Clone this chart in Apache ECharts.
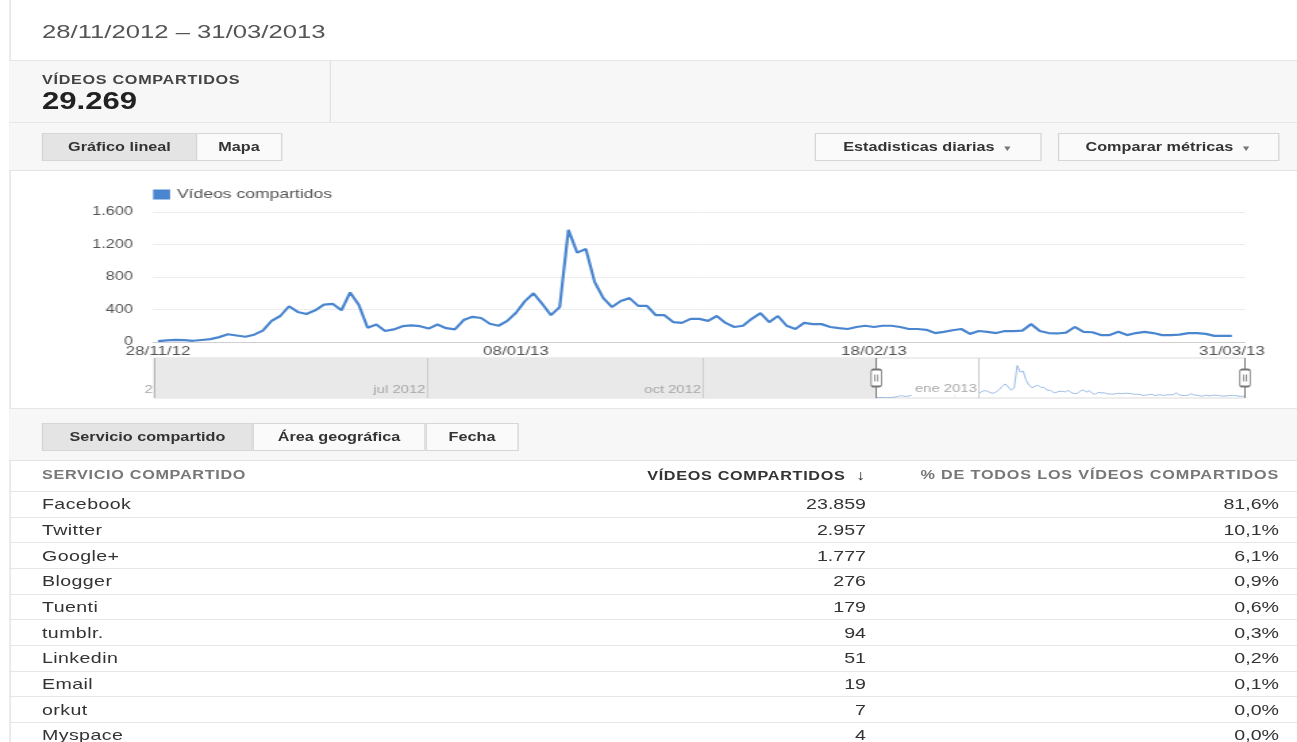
<!DOCTYPE html>
<html>
<head>
<meta charset="utf-8">
<script src="https://cdn.jsdelivr.net/npm/echarts@6/dist/echarts.min.js"></script>
<style>
  html, body { margin:0; padding:0; background:#fff; overflow:hidden; }
  #root { position:absolute; left:0; top:0; width:960px; height:742px; transform-origin:0 0; font-family:'Liberation Sans', Arial, Helvetica, sans-serif; }
</style>
</head>
<body>
<div id="root"></div>
<script>
// ---------------- DATA ----------------
const rangeTitle = '28/11/2012 \u2013 31/03/2013';
const metricName = 'VÍDEOS COMPARTIDOS';
const metricTotal = 29269;
const seriesName = 'Vídeos compartidos';
const startDate = '2012-11-28';
// daily shares, 28/11/2012 .. 31/03/2013 (124 days)
const sharesPerDay = [
  10, 20, 25, 22, 15, 25, 35, 60, 95, 80,
  65, 90, 140, 260, 320, 440, 370, 345, 390, 460,
  470, 390, 610, 455, 175, 215, 135, 155, 195, 205,
  195, 165, 215, 170, 155, 270, 310, 295, 225, 200,
  260, 360, 500, 600, 470, 330, 430, 1380, 1100, 1145,
  740, 540, 430, 505, 540, 445, 445, 330, 330, 245,
  235, 285, 285, 260, 320, 235, 185, 200, 285, 355,
  245, 320, 200, 160, 235, 220, 220, 185, 170, 160,
  185, 200, 185, 200, 200, 185, 160, 160, 150, 110,
  125, 145, 160, 100, 135, 125, 110, 135, 135, 140,
  220, 135, 110, 105, 115, 185, 125, 120, 85, 85,
  125, 85, 110, 125, 110, 85, 85, 90, 110, 110,
  100, 75, 75, 75
];
const xTickIndex = [0, 41, 82, 123];
const yTicks = [0, 400, 800, 1200, 1600];
// navigator
const navStart = '2012-04-01';
const monthStarts = ['2012-07-01', '2012-10-01', '2013-01-01'];
const monthLabels = ['jul 2012', 'oct 2012', 'ene 2013'];
// table
const services = ['Facebook', 'Twitter', 'Google+', 'Blogger', 'Tuenti', 'tumblr.', 'Linkedin', 'Email', 'orkut', 'Myspace'];
const serviceShares = [23859, 2957, 1777, 276, 179, 94, 51, 19, 7, 4];
const servicePct = [81.6, 10.1, 6.1, 0.9, 0.6, 0.3, 0.2, 0.1, 0.0, 0.0];

// ---------------- HELPERS ----------------
const FONT = "'Liberation Sans', Arial, Helvetica, sans-serif";
const S = 1297 / 960;
const root = document.getElementById('root');
root.style.transform = 'scaleX(' + S + ')';
const DAY = 86400000;
function utc(s) { const p = s.split('-').map(Number); return Date.UTC(p[0], p[1] - 1, p[2]); }
function dayOffset(s) { return Math.round((utc(s) - utc(startDate)) / DAY); }
function pad(n) { return (n < 10 ? '0' : '') + n; }
const dates = sharesPerDay.map(function (_, i) {
  const d = new Date(utc(startDate) + i * DAY);
  return pad(d.getUTCDate()) + '/' + pad(d.getUTCMonth() + 1) + '/' + String(d.getUTCFullYear()).slice(2);
});
function thousands(v) { return String(v).replace(/\B(?=(\d{3})+(?!\d))/g, '.'); }
function X(x) { return (x / S).toFixed(2) + 'px'; }
function add(html, css) {
  const d = document.createElement('div');
  d.style.cssText = 'position:absolute;white-space:nowrap;' + css;
  d.innerHTML = html;
  root.appendChild(d);
  return d;
}
function rect(x1, y1, x2, y2, css) {
  return add('', 'left:' + X(x1) + ';top:' + y1 + 'px;width:' + X(x2 - x1) + ';height:' + (y2 - y1) + 'px;' + css);
}
function textL(str, x, yc, css) {
  return add(str, 'left:' + X(x) + ';top:' + (yc - 12) + 'px;height:24px;line-height:24px;' + css);
}
function textR(str, xr, yc, css) {
  return add(str, 'right:' + X(1297 - xr) + ';top:' + (yc - 12) + 'px;height:24px;line-height:24px;text-align:right;' + css);
}
function button(str, x1, y1, x2, y2, bg) {
  return add(str, 'left:' + X(x1) + ';top:' + y1 + 'px;width:' + X(x2 - x1) + ';height:' + (y2 - y1) + 'px;line-height:' + (y2 - y1 - 2) + 'px;' +
    'box-sizing:border-box;border:1px solid #d6d6d6;background:' + bg + ';text-align:center;font-weight:bold;font-size:12px;color:#333;');
}

// ---------------- PAGE FRAME ----------------
rect(9, 0, 10, 742, 'background:#e2e2e2;');
textL(rangeTitle, 42, 32, 'font-size:19px;color:#555;');
rect(10, 60, 1297, 122, 'background:#f7f7f7;border-top:1px solid #e6e6e6;box-sizing:border-box;');
rect(330, 60, 331, 122, 'background:#e2e2e2;');
textL(metricName, 42, 80, 'font-size:12px;font-weight:bold;color:#444;letter-spacing:0.5px;');
textL(thousands(metricTotal), 42, 101, 'font-size:23px;font-weight:bold;color:#222;');
rect(10, 122, 1297, 171, 'background:#f7f7f7;border-top:1px solid #e6e6e6;border-bottom:1px solid #e3e3e3;box-sizing:border-box;');
button('Gráfico lineal', 42, 133, 197, 161, '#e4e4e4');
button('Mapa', 196, 133, 282, 161, '#fafafa');
button('Estadisticas diarias <span style="font-size:8px;color:#777;">&nbsp;\u25BC</span>', 815, 133, 1041, 161, '#fafafa');
button('Comparar métricas <span style="font-size:8px;color:#777;">&nbsp;\u25BC</span>', 1058, 133, 1279, 161, '#fafafa');

// tabs band
rect(10, 408, 1297, 461, 'background:#f7f7f7;border-top:1px solid #e6e6e6;border-bottom:1px solid #e3e3e3;box-sizing:border-box;');
button('Servicio compartido', 42, 423, 253, 451, '#e4e4e4');
button('Área geográfica', 252, 423, 426, 451, '#fafafa');
button('Fecha', 425, 423, 519, 451, '#fafafa');

// table header
textL('SERVICIO COMPARTIDO', 42, 475, 'font-size:12px;font-weight:bold;color:#777;letter-spacing:0.5px;');
textR('VÍDEOS COMPARTIDOS&nbsp;&nbsp;<span style="font-size:14px;">\u2193</span>', 866, 475, 'font-size:12px;font-weight:bold;color:#333;letter-spacing:0.5px;');
textR('% DE TODOS LOS VÍDEOS COMPARTIDOS', 1279, 475, 'font-size:12px;font-weight:bold;color:#777;letter-spacing:0.6px;');
const rowTop = 491, rowH = 25.65;
services.forEach(function (name, k) {
  const yTop = rowTop + k * rowH;
  rect(10, yTop, 1297, yTop + 1, 'background:#e6e6e6;');
  const yc = yTop + rowH / 2 + 0.5;
  textL(name, 42, yc, 'font-size:14.5px;color:#333;letter-spacing:0.3px;');
  textR(thousands(serviceShares[k]), 866, yc, 'font-size:14.5px;color:#333;');
  textR(servicePct[k].toFixed(1).replace('.', ',') + '%', 1279, yc, 'font-size:14.5px;color:#333;');
});

// ---------------- CHART ----------------
const chartDiv = add('', 'left:0;top:170px;width:960px;height:238px;');
chartDiv.style.whiteSpace = 'normal';
const chart = echarts.init(chartDiv, null, { renderer: 'canvas', width: 960, height: 238 });

const BLUE = '#4a86cf';
const navMin = dayOffset(navStart);
const navMax = sharesPerDay.length - 1;
const monthOffsets = monthStarts.map(dayOffset);
const lineData = sharesPerDay.map(function (v, i) { return [i, v]; });
const handlePath = 'path://M2,0 H8 Q10,0 10,2 V18 Q10,20 8,20 H2 Q0,20 0,18 V2 Q0,0 2,0 Z M3.6,6 V14 M6.4,6 V14';

chart.setOption({
  animation: false,
  textStyle: { fontFamily: FONT },
  legend: {
    data: [seriesName], left: 113.3, top: 18, padding: 0,
    icon: 'rect', itemWidth: 12.6, itemHeight: 10, itemGap: 10,
    textStyle: { fontSize: 13, color: '#555', fontFamily: FONT },
    selectedMode: false
  },
  grid: [
    { left: 113.3, right: 38.5, top: 42, height: 130 },
    { left: 114, right: 38.5, top: 188, height: 40, show: true, borderColor: '#dcdcdc', borderWidth: 1, backgroundColor: '#fff' }
  ],
  xAxis: [
    {
      type: 'value', gridIndex: 0, min: -0.57, max: 124.5,
      axisLine: { show: true, lineStyle: { color: '#cfcfcf', width: 1 } },
      axisTick: { show: false }, splitLine: { show: false },
      axisLabel: {
        customValues: xTickIndex,
        formatter: function (v) { return dates[Math.round(v)]; },
        fontSize: 12.5, color: '#555', margin: 3, fontFamily: FONT
      }
    },
    {
      type: 'value', gridIndex: 1, min: navMin, max: navMax, z: 6,
      axisLine: { show: false }, axisTick: { show: false }, splitLine: { show: false },
      axisLabel: {
        inside: true, customValues: [navMin].concat(monthOffsets),
        formatter: function (v) {
          const k = monthOffsets.indexOf(Math.round(v));
          if (k < 0) return '{g|2}';
          return (k === monthOffsets.length - 1 ? '{w|' : '{g|') + monthLabels[k] + '}';
        },
        align: 'right', margin: 3,
        rich: {
          g: { fontSize: 11, color: '#a8a8a8', fontFamily: FONT, padding: [0, 1, 0, 0] },
          w: { fontSize: 11, color: '#a8a8a8', fontFamily: FONT, backgroundColor: '#fff', padding: [1, 1, 1, 3] }
        }
      }
    }
  ],
  yAxis: [
    {
      type: 'value', gridIndex: 0, min: yTicks[0], max: yTicks[yTicks.length - 1], interval: 400,
      axisLine: { show: false }, axisTick: { show: false },
      splitLine: { lineStyle: { color: '#ececec', width: 1 } },
      axisLabel: { formatter: function (v) { return thousands(v); }, fontSize: 12, color: '#555', margin: 15, fontFamily: FONT }
    },
    { type: 'value', gridIndex: 1, min: 0, max: 1700, show: false }
  ],
  series: [
    {
      name: seriesName, type: 'line', xAxisIndex: 0, yAxisIndex: 0, data: lineData,
      showSymbol: false, symbol: 'none', z: 3,
      lineStyle: { color: BLUE, width: 2.2 }, itemStyle: { color: BLUE }
    },
    {
      type: 'line', xAxisIndex: 1, yAxisIndex: 1, data: [], z: 1, silent: true,
      markArea: {
        silent: true, itemStyle: { color: '#e9e9e9' },
        data: [[{ xAxis: navMin }, { xAxis: 0 }]]
      },
      markLine: {
        silent: true, symbol: 'none', label: { show: false },
        lineStyle: { color: '#cdcdcd', width: 1, type: 'solid' },
        data: monthOffsets.map(function (o) { return { xAxis: o }; }).concat([{ xAxis: navMin, lineStyle: { color: '#b5b5b5' } }])
      }
    },
    {
      type: 'line', xAxisIndex: 1, yAxisIndex: 1, data: lineData, z: 2, silent: true,
      showSymbol: false, symbol: 'none',
      lineStyle: { color: '#9dbde6', width: 1 }, itemStyle: { color: '#9dbde6' },
      markLine: {
        silent: true, symbol: 'none', label: { show: false },
        lineStyle: { color: '#7a7a7a', width: 1, type: 'solid' },
        data: [{ xAxis: 0 }, { xAxis: navMax }]
      },
      markPoint: {
        silent: true, symbol: handlePath, symbolSize: [7.6, 17],
        itemStyle: { color: '#fff', borderColor: '#777', borderWidth: 1.2 },
        label: { show: false },
        data: [{ coord: [0, 850] }, { coord: [navMax, 850] }]
      }
    }
  ]
});
</script>
</body>
</html>
